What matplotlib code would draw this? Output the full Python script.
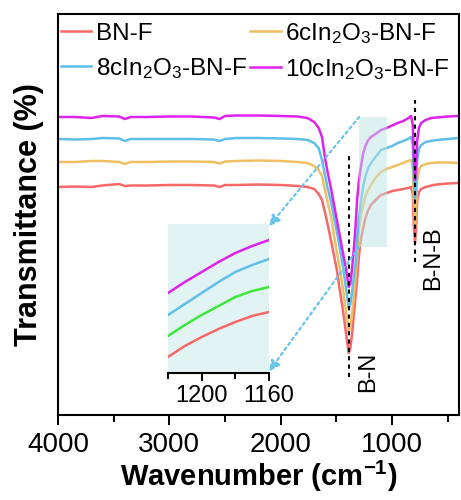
import matplotlib
matplotlib.use("Agg")
import matplotlib.pyplot as plt
from matplotlib.patches import Rectangle

plt.rcParams["font.family"] = ["Liberation Sans", "DejaVu Sans"]
plt.rcParams["mathtext.default"] = "regular"

# wavenumber grid (cm-1) and transmittance (a.u.)
wn = [4000, 3850, 3700, 3600, 3450, 3400, 3350, 3200, 3000, 2800, 2600, 2550, 2500, 2400,
      2200, 2000, 1850, 1760, 1700, 1660, 1630, 1600, 1580, 1550, 1500, 1470, 1440, 1410,
      1390, 1375, 1360, 1345, 1330, 1315, 1300, 1285, 1260, 1240, 1215, 1190, 1150, 1100,
      1050, 1000, 950, 900, 860, 830, 815, 805, 795, 785, 775, 760, 740, 700, 650, 600, 500, 400]

bnf = [228, 228.5, 228, 229.5, 231, 229, 229.5, 229.5, 230, 230, 229.5, 228, 230, 230,
       230.5, 230, 229, 228, 226, 221, 215, 201, 191, 175, 147, 125, 103, 78,
       62, 67, 81, 99, 117, 135, 157, 173, 187, 197, 205, 210, 215, 220,
       222, 224, 225, 226, 227, 228, 220, 187, 172, 187, 215, 223, 226, 228, 229.5, 230.5, 231.5, 232]
c6 = [253, 253, 254, 254, 253, 251, 253, 253, 253.5, 253.5, 253, 251.5, 253.5, 254,
      254.5, 254, 253, 252, 249, 245, 239, 223, 213, 199, 165, 147, 125, 100,
      83, 88, 101, 117, 135, 157, 183, 197, 210, 219, 225, 230, 237, 243,
      246, 248, 250, 252, 254, 255, 247, 210, 188, 205, 235, 245, 249, 251, 252, 252.5, 252.5, 252]
c8 = [276, 275.5, 276, 277, 276.5, 274, 276, 276, 276, 276, 275.5, 274, 276, 277,
      277, 276.5, 276, 275, 272, 267, 255, 238, 227, 214, 185, 167, 147, 123,
      107, 111, 123, 137, 150, 175, 195, 210, 229, 239, 247, 252, 258, 265,
      267, 269, 272, 274, 276, 278, 270, 235, 217, 230, 255, 266, 270, 273, 274, 275, 276, 277]
c10 = [298, 298, 297, 299, 298.5, 296, 298, 298, 298.5, 298.5, 297.5, 296, 299, 299.5,
       299.5, 299, 298.5, 297, 293, 287, 278, 255, 243, 227, 197, 179, 161, 143,
       128, 132, 147, 165, 187, 215, 232, 245, 262, 269, 275, 278, 281, 285,
       287, 289.5, 292, 294, 296.5, 299, 290, 255, 235, 250, 275, 287, 292, 295, 297, 297.5, 298.5, 299]

labels = ["BN-F", "6cIn$_2$O$_3$-BN-F", "8cIn$_2$O$_3$-BN-F", "10cIn$_2$O$_3$-BN-F"]
colors = ["#f86868", "#eebf63", "#5fbfe8", "#de22ee"]

# zoomed inset (1220-1160 cm-1)
wn_zoom = [1220, 1210, 1200, 1190, 1180, 1170, 1160]
z_red = [16, 27, 36, 44, 51, 57, 61]
z_green = [37, 48, 58, 67, 76, 82, 86]
z_blue = [58, 69, 80, 91, 101, 108, 114]
z_mag = [80, 91, 101, 111, 120, 127, 133]

fig = plt.figure(figsize=(4.61, 5.0), dpi=100)
ax = fig.add_axes([58 / 461, 85 / 500, 401 / 461, 401 / 500])

lines = []
for y, c, lab in zip([bnf, c6, c8, c10], colors, labels):
    l, = ax.plot(wn, y, color=c, lw=1.8, label=lab)
    lines.append(l)

ax.set_xlim(4000, 400)
ax.set_ylim(0, 401)
ax.set_xticks([4000, 3000, 2000, 1000])
ax.set_xticks([3500, 2500, 1500, 500], minor=True)
ax.set_yticks([])
ax.tick_params(axis="x", which="major", length=7, width=1.4, direction="out", labelsize=20, pad=5)
ax.tick_params(axis="x", which="minor", length=5, width=1.4, direction="out")
for s in ax.spines.values():
    s.set_linewidth(1.5)
ax.set_xlabel("Wavenumber (cm$^{-1}$)", fontsize=21, fontweight="bold", labelpad=1)
ax.set_ylabel("Transmittance (%)", fontsize=22, fontweight="bold", labelpad=10)

# marker lines and labels
ax.plot([1390, 1390], [38, 263], color="black", ls=(0, (2, 2)), lw=1.5)
ax.plot([795, 795], [153, 315], color="black", ls=(0, (2, 2)), lw=1.5)
ax.text(1215, 43, "B-N", rotation=90, ha="center", va="center", fontsize=17)
ax.text(631, 157, "B-N-B", rotation=90, ha="center", va="center", fontsize=17)

# highlighted region
ax.add_patch(Rectangle((1296, 168), 1044 - 1296, 130, facecolor="#bfe5e5",
                       edgecolor="none", alpha=0.5, zorder=5))

# legend rows: BN-F / 6c, then 8c / 10c
order = [0, 2, 1, 3]
ax.legend([lines[i] for i in order], [labels[i] for i in order], loc="upper left", ncol=2,
          frameon=False, fontsize=17.5, handlelength=1.25, handletextpad=0.18,
          columnspacing=0.15, labelspacing=0.45, bbox_to_anchor=(-0.005, 0.995),
          borderaxespad=0, borderpad=0.2)

# inset
axins = fig.add_axes([168 / 461, 127 / 500, 101 / 461, 149 / 500])
axins.set_facecolor("#e2f3f3")
for y, c in zip([z_red, z_green, z_blue, z_mag], ["#f86868", "#3de83d", "#5fbfe8", "#de22ee"]):
    axins.plot(wn_zoom, y, color=c, lw=1.8)
axins.set_xlim(1220, 1160)
axins.set_ylim(0, 149)
axins.set_xticks([1200, 1160])
axins.set_xticks([1220, 1180], minor=True)
axins.set_yticks([])
for k in ["top", "left", "right"]:
    axins.spines[k].set_visible(False)
axins.spines["bottom"].set_linewidth(1.5)
axins.tick_params(axis="x", which="major", length=6, width=1.4, labelsize=17, pad=3)
axins.tick_params(axis="x", which="minor", length=4, width=1.4)

# dotted arrows from the box to the inset
arrow_kw = dict(arrowstyle="-|>", color="#6cc4ea", lw=1.6, ls=(0, (1.2, 1.6)),
                mutation_scale=16, shrinkA=0, shrinkB=0)
ax.annotate("", xy=(1.0, 0.985), xycoords=axins.transAxes, xytext=(1296, 298),
            textcoords="data", arrowprops=arrow_kw)
ax.annotate("", xy=(1.0, 0.01), xycoords=axins.transAxes, xytext=(1296, 168),
            textcoords="data", arrowprops=arrow_kw)

fig.savefig("out.png", dpi=100)
